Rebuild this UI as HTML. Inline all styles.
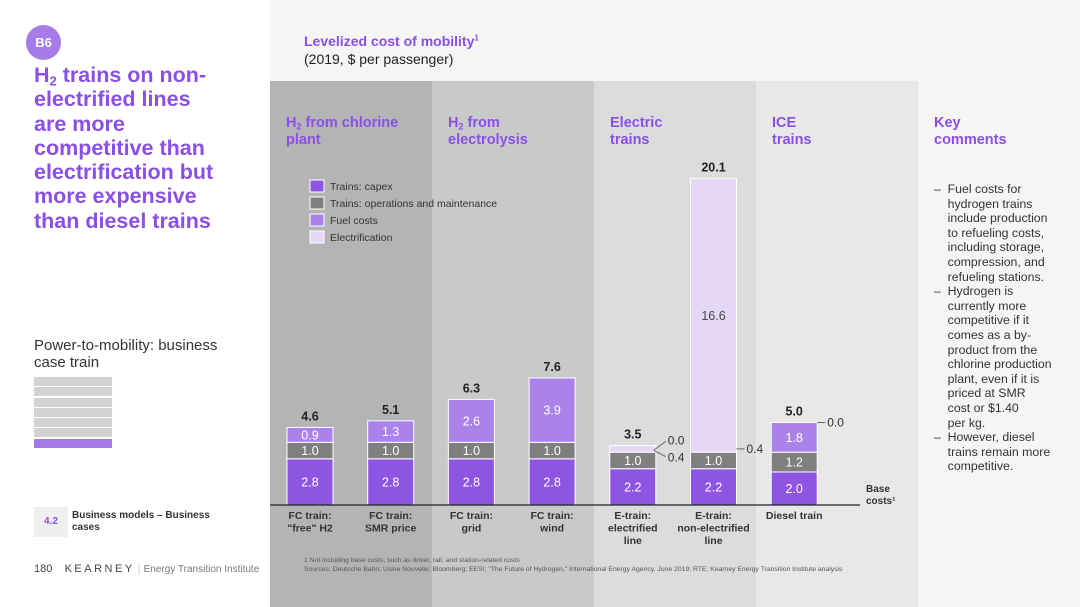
<!DOCTYPE html>
<html><head><meta charset="utf-8"><style>
body{margin:0;width:1080px;height:607px;position:relative;overflow:hidden;background:#fff;font-family:"Liberation Sans",Arial,sans-serif;}
.a{position:absolute;}
.p{color:#8a4fe6;font-weight:bold;}
sub{line-height:0;vertical-align:-0.25em;}
</style></head><body>
<div class="a" style="left:270px;top:0;width:810px;height:607px;background:#f5f5f5"></div>
<div class="a" style="left:270px;top:81px;width:162px;height:526px;background:#b4b4b4"></div>
<div class="a" style="left:432px;top:81px;width:162px;height:526px;background:#c9c9c9"></div>
<div class="a" style="left:594px;top:81px;width:162px;height:526px;background:#dcdcdc"></div>
<div class="a" style="left:756px;top:81px;width:162px;height:526px;background:#e8e8e8"></div>

<div class="a" style="left:26px;top:25px;width:35px;height:35px;border-radius:50%;background:#a57ce8;color:#fff;font-weight:bold;font-size:13px;text-align:center;line-height:35px">B6</div>
<div class="a p" style="left:34px;top:63px;font-size:21.5px;line-height:24.3px;width:240px">H<sub style="font-size:13px">2</sub> trains on non-<br>electrified lines<br>are more<br>competitive than<br>electrification but<br>more expensive<br>than diesel trains</div>
<div class="a" style="left:34px;top:337px;font-size:15px;line-height:17px;color:#333">Power-to-mobility: business<br>case train</div>
<div class="a" style="left:34px;top:377px;width:78px">
<div style="height:9px;background:#d3d3d3;margin-bottom:1.3px"></div><div style="height:9px;background:#d3d3d3;margin-bottom:1.3px"></div><div style="height:9px;background:#d3d3d3;margin-bottom:1.3px"></div><div style="height:9px;background:#d3d3d3;margin-bottom:1.3px"></div><div style="height:9px;background:#d3d3d3;margin-bottom:1.3px"></div><div style="height:9px;background:#d3d3d3;margin-bottom:1.3px"></div><div style="height:9px;background:#a37ae8"></div></div>
<div class="a" style="left:34px;top:507px;width:34px;height:30px;background:#efefef;color:#8a4fe6;font-weight:bold;font-size:10px;text-align:center;line-height:30px">4.2</div>
<div class="a" style="left:72px;top:510px;font-size:10px;font-weight:bold;color:#333;line-height:12px">Business models – Business<br>cases</div>
<div class="a" style="left:34px;top:563px;font-size:11px;color:#444">180 &nbsp;&nbsp; <span style="letter-spacing:2.5px">KEARNEY</span> <span style="color:#ccc">|</span> <span style="color:#777;font-size:10px">Energy Transition Institute</span></div>

<div class="a p" style="left:304px;top:33px;font-size:14px">Levelized cost of mobility<sup style="font-size:8px">1</sup></div>
<div class="a" style="left:304px;top:51px;font-size:14px;color:#222">(2019, $ per passenger)</div>
<div class="a p" style="left:286px;top:115px;font-size:14.5px;line-height:17px">H<sub style="font-size:9px">2</sub> from chlorine<br>plant</div>
<div class="a p" style="left:448px;top:115px;font-size:14.5px;line-height:17px">H<sub style="font-size:9px">2</sub> from<br>electrolysis</div>
<div class="a p" style="left:610px;top:115px;font-size:14.5px;line-height:17px">Electric<br>trains</div>
<div class="a p" style="left:772px;top:115px;font-size:14.5px;line-height:17px">ICE<br>trains</div>
<div class="a p" style="left:934px;top:115px;font-size:14.5px;line-height:17px">Key<br>comments</div>
<div class="a" style="left:934px;top:182px;font-size:12.3px;line-height:14.6px;color:#333;white-space:pre">–  Fuel costs for
    hydrogen trains
    include production
    to refueling costs,
    including storage,
    compression, and
    refueling stations.
–  Hydrogen is
    currently more
    competitive if it
    comes as a by-
    product from the
    chlorine production
    plant, even if it is
    priced at SMR
    cost or $1.40
    per kg.
–  However, diesel
    trains remain more
    competitive.</div>
<div class="a" style="left:304px;top:556px;font-size:6.8px;color:#555;line-height:9px;white-space:nowrap">1 Not including base costs, such as driver, rail, and station-related costs<br>Sources: Deutsche Bahn; Usine Nouvelle; Bloomberg; EESI; "The Future of Hydrogen," International Energy Agency, June 2019; RTE; Kearney Energy Transition Institute analysis</div>

<svg id="chart" class="a" style="left:0;top:0" width="1080" height="607" font-family="Liberation Sans, Arial, sans-serif"></svg>
<script>
const categories=[["FC train:","\"free\" H2"],["FC train:","SMR price"],["FC train:","grid"],["FC train:","wind"],["E-train:","electrified","line"],["E-train:","non-electrified","line"],["Diesel train"]];
const capex=[2.8,2.8,2.8,2.8,2.2,2.2,2.0];
const om=[1.0,1.0,1.0,1.0,1.0,1.0,1.2];
const fuel=[0.9,1.3,2.6,3.9,0.0,0.0,1.8];
const electrification=[0,0,0,0,0.4,16.6,0.0];
const totals=["4.6","5.1","6.3","7.6","3.5","20.1","5.0"];
const seriesNames=["Trains: capex","Trains: operations and maintenance","Fuel costs","Electrification"];
const colors=["#8e55e2","#7f7f7f","#aa82ea","#e4d7f8"];
const svg=document.getElementById('chart');const NS="http://www.w3.org/2000/svg";
const base=505,k=16.5,bw=46;
const y=v=>base-v*k; const cx=i=>310+i*80.7;
function mk(t,a,txt){const e=document.createElementNS(NS,t);for(const n in a)e.setAttribute(n,a[n]);if(txt!=null)e.textContent=txt;svg.appendChild(e);return e;}
const series=[capex,om,fuel,electrification];
categories.forEach((c,i)=>{let acc=0;
 series.forEach((s,j)=>{const v=s[i];if(v<=0){return;}
  const r=mk('rect',{x:cx(i)-bw/2,y:y(acc+v),width:bw,height:v*k,fill:colors[j],stroke:'#fff','stroke-width':1});
  
  
  if(v>=0.8){const t=mk('text',{x:cx(i),y:y(acc+v/2)+4.5,'text-anchor':'middle','font-size':12.5,fill:j==3?'#444':'#fff'},v.toFixed(1));
   
   }
  acc+=v;});
 const tot=capex[i]+om[i]+fuel[i]+electrification[i];
 const tl=mk('text',{x:cx(i),y:y(tot)-7,'text-anchor':'middle','font-size':12.5,'font-weight':'bold',fill:'#222'},totals[i]);
 
 
 c.forEach((l,m)=>{const t=mk('text',{x:cx(i),y:519+m*12.5,'text-anchor':'middle','font-size':10.5,'font-weight':'bold',fill:'#333'},l);
  
  });
});
const i4=4,i5=5,i6=6;
mk('path',{d:`M${cx(i4)+bw/2-2} ${y(3.5)+3} L${cx(i4)+bw/2+10} ${y(3.5)-6}`,stroke:'#666',fill:'none'});
let t1=mk('text',{x:cx(i4)+bw/2+12,y:y(3.5)-3,'font-size':12,fill:'#333'},fuel[i4].toFixed(1));


mk('path',{d:`M${cx(i4)+bw/2-2} ${y(3.3)} L${cx(i4)+bw/2+10} ${y(3.3)+6}`,stroke:'#666',fill:'none'});
let t2=mk('text',{x:cx(i4)+bw/2+12,y:y(3.3)+11,'font-size':12,fill:'#333'},electrification[i4].toFixed(1));


mk('line',{x1:cx(i5)+bw/2,x2:cx(i5)+bw/2+8,y1:y(3.4),y2:y(3.4),stroke:'#666'});
let t3=mk('text',{x:cx(i5)+bw/2+10,y:y(3.4)+4,'font-size':12,fill:'#333'},"0.4");


mk('line',{x1:cx(i6)+bw/2,x2:cx(i6)+bw/2+8,y1:y(5.0),y2:y(5.0),stroke:'#666'});
let t4=mk('text',{x:cx(i6)+bw/2+10,y:y(5.0)+4,'font-size':12,fill:'#333'},electrification[i6].toFixed(1));


const ax=mk('line',{x1:270,x2:860,y1:base,y2:base,stroke:'#222','stroke-width':1.2});


const bc=mk('text',{x:866,y:492,'font-size':10,'font-weight':'bold',fill:'#333'},'Base');


mk('text',{x:866,y:504,'font-size':10,'font-weight':'bold',fill:'#333'},'costs¹');
seriesNames.forEach((n,j)=>{const r=mk('rect',{x:310,y:180+j*17,width:14,height:12,fill:colors[j],stroke:'#fff'});
 
 
 const t=mk('text',{x:330,y:190+j*17,'font-size':10.5,fill:'#333'},n);
 
 });
</script>
</body></html>
